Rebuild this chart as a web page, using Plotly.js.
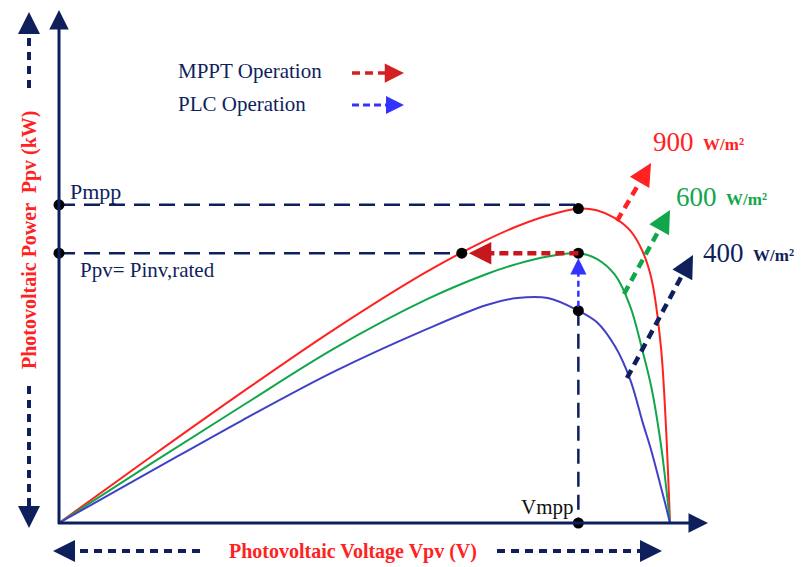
<!DOCTYPE html>
<html><head><meta charset="utf-8">
<script src="https://cdn.plot.ly/plotly-3.0.1.min.js"></script>
<style>html,body{margin:0;padding:0;background:#fff}#chart{width:803px;height:567px}</style>
</head><body><div id="chart"></div>
<script>
// ---- data (normalised: Voc = 100, Pmpp(900 W/m2) ~ 100) ----
const voltage   = [0, 15, 30, 45, 60, 70, 75, 80, 85, 88, 91, 93.5, 95.5, 97, 98.5, 99.3, 100];
const power900  = [0, 20.9, 41.4, 61.2, 79.3, 89.6, 93.9, 97.3, 99.5, 99.0, 96.5, 92.5, 86.0, 77.0, 56.0, 32.0, 0];
const power600  = [0, 18.7, 37.1, 55.2, 70.6, 78.8, 82.0, 84.3, 85.4, 83.6, 78.5, 68.5, 54.5, 42.5, 25.0, 12.5, 0];
const power400  = [0, 16.3, 32.5, 47.9, 61.2, 69.0, 71.2, 71.2, 67.2, 63.6, 55.9, 45.3, 32.0, 22.5, 11.5, 5.5, 0];
const irrLabels = ['900', '600', '400'];

const NAVY = '#0f1f5c', RED = '#ff2222', GREEN = '#12a64a', BLUE = '#4040c8';
const FONT = 'Liberation Serif, Times New Roman, serif';

// pixel -> data helpers for decorations
const X = px => (px - 59) / 6.11;
const Y = py => (523 - py) / 3.16;

// derived operating points
const Pmpp = Math.max(...power900);
const iM = power900.indexOf(Pmpp);
const Vmpp = voltage[iM];
const Prated = Math.max(...power600);
let Vint = 0;
for (let i = 1; i < power900.length; i++) {
  if (power900[i - 1] <= Prated && power900[i] >= Prated) {
    Vint = voltage[i - 1] + (Prated - power900[i - 1]) / (power900[i] - power900[i - 1]) * (voltage[i] - voltage[i - 1]);
    break;
  }
}
const Pblue = power400[iM];

const shapes = [], annotations = [];

// arrow in pixel coords: dashed body + head
function arrow(x0, y0, x1, y1, color, w, dash, size) {
  const dx = x1 - x0, dy = y1 - y0, L = Math.hypot(dx, dy);
  const ux = dx / L, uy = dy / L;
  const hl = 3 * w * size;
  shapes.push({type: 'line', xref: 'x', yref: 'y', layer: 'above',
    x0: X(x0), y0: Y(y0), x1: X(x1 - ux * hl * 0.8), y1: Y(y1 - uy * hl * 0.8),
    line: {color: color, width: w, dash: dash || 'solid'}});
  annotations.push({x: X(x1), y: Y(y1), xref: 'x', yref: 'y', text: '', showarrow: true,
    ax: -ux * (hl + 2), ay: -uy * (hl + 2), arrowhead: 2, arrowsize: size, arrowwidth: w, arrowcolor: color});
}

// axes
arrow(59, 524, 59, 10, NAVY, 3, null, 1.3);
arrow(58, 523, 708, 523, NAVY, 3, null, 1.3);

// axis title arrows
arrow(29, 88, 29, 12, NAVY, 4, '8px,6px', 1.1);
arrow(29, 386, 29, 528, NAVY, 4, '8px,6px', 1.1);
arrow(200, 551, 53, 551, NAVY, 4, '8px,6px', 1.1);
arrow(497, 551, 662, 551, NAVY, 4, '8px,6px', 1.1);

// reference dashed lines from data
shapes.push({type: 'line', layer: 'below', x0: 0, y0: Pmpp + 1.2, x1: Vmpp, y1: Pmpp + 1.2, line: {color: NAVY, width: 2.5, dash: '16px,9px'}});
shapes.push({type: 'line', layer: 'below', x0: 0, y0: Prated, x1: Vint, y1: Prated, line: {color: NAVY, width: 2.5, dash: '16px,9px'}});
shapes.push({type: 'line', layer: 'below', x0: Vmpp, y0: Pblue, x1: Vmpp, y1: 0, line: {color: NAVY, width: 2.5, dash: '15px,8px'}});

// MPPT / PLC operation arrows
arrow(59 + Vmpp * 6.11, 523 - Prated * 3.16, 59 + Vint * 6.11 + 7, 523 - Prated * 3.16, '#c8161d', 4.5, '9px,5px', 1.0);
arrow(59 + Vmpp * 6.11, 523 - Pblue * 3.16 - 4, 59 + Vmpp * 6.11, 523 - Prated * 3.16 + 5, '#3333ff', 2.5, '6px,4px', 1.3);

// irradiance arrows
arrow(617, 221, 651, 163, RED, 4.5, '9px,6px', 1.0);
arrow(624, 294, 670, 210, GREEN, 4.5, '9px,6px', 1.0);
arrow(627, 378, 693, 255, NAVY, 4.5, '9px,6px', 1.0);

// legend arrows
arrow(352, 73, 404, 73, '#d42020', 3.5, '8px,5px', 1.1);
arrow(352, 105, 404, 105, '#3333ff', 3, '7px,4px', 1.2);

function txt(text, px, py, color, size, xanchor, extra) {
  annotations.push(Object.assign({x: px / 803, y: 1 - py / 567, xref: 'paper', yref: 'paper', text: text,
    showarrow: false, xanchor: xanchor || 'left', yanchor: 'middle',
    font: {family: FONT, size: size, color: color}}, extra || {}));
}
txt('MPPT Operation', 176, 71, NAVY, 21);
txt('PLC Operation', 176, 104, NAVY, 21);
txt('Pmpp', 68, 191, NAVY, 22);
txt('Ppv= Pinv,rated', 78, 270, NAVY, 21);
txt('Vmpp', 547, 507, '#111', 21, 'center');
txt('<b>Photovoltaic Voltage Vpv (V)</b>', 353, 551, RED, 20, 'center');
txt('<b>Photovoltaic Power  Ppv (kW)</b>', 29, 240, RED, 20, 'center', {textangle: -90});

const irrPos = [[651, 142, RED], [674, 197, GREEN], [701, 253, NAVY]];
irrLabels.forEach((l, i) => {
  const [px, py, c] = irrPos[i];
  txt(l, px, py, c, 27);
  txt('<b>W/m²</b>', px + 50, py + 2, c, 17);
});

const traces = [
  {x: voltage, y: power900, mode: 'lines', line: {color: RED, width: 2, shape: 'spline', smoothing: 1}, name: '900'},
  {x: voltage, y: power600, mode: 'lines', line: {color: GREEN, width: 2, shape: 'spline', smoothing: 1}, name: '600'},
  {x: voltage, y: power400, mode: 'lines', line: {color: BLUE, width: 2, shape: 'spline', smoothing: 1}, name: '400'},
  {x: [0, Vmpp, 0, Vint, Vmpp, Vmpp, Vmpp], y: [Pmpp + 1.2, Pmpp, Prated, Prated, Prated, Pblue, 0],
   mode: 'markers', marker: {color: '#000', size: 11}, name: 'points'}
];

const layout = {
  width: 803, height: 567, margin: {l: 0, r: 0, t: 0, b: 0},
  paper_bgcolor: '#fff', plot_bgcolor: '#fff', showlegend: false,
  xaxis: {range: [X(0), X(803)], visible: false, fixedrange: true},
  yaxis: {range: [Y(567), Y(0)], visible: false, fixedrange: true},
  shapes: shapes, annotations: annotations
};
Plotly.newPlot('chart', traces, layout, {staticPlot: true});
</script></body></html>
